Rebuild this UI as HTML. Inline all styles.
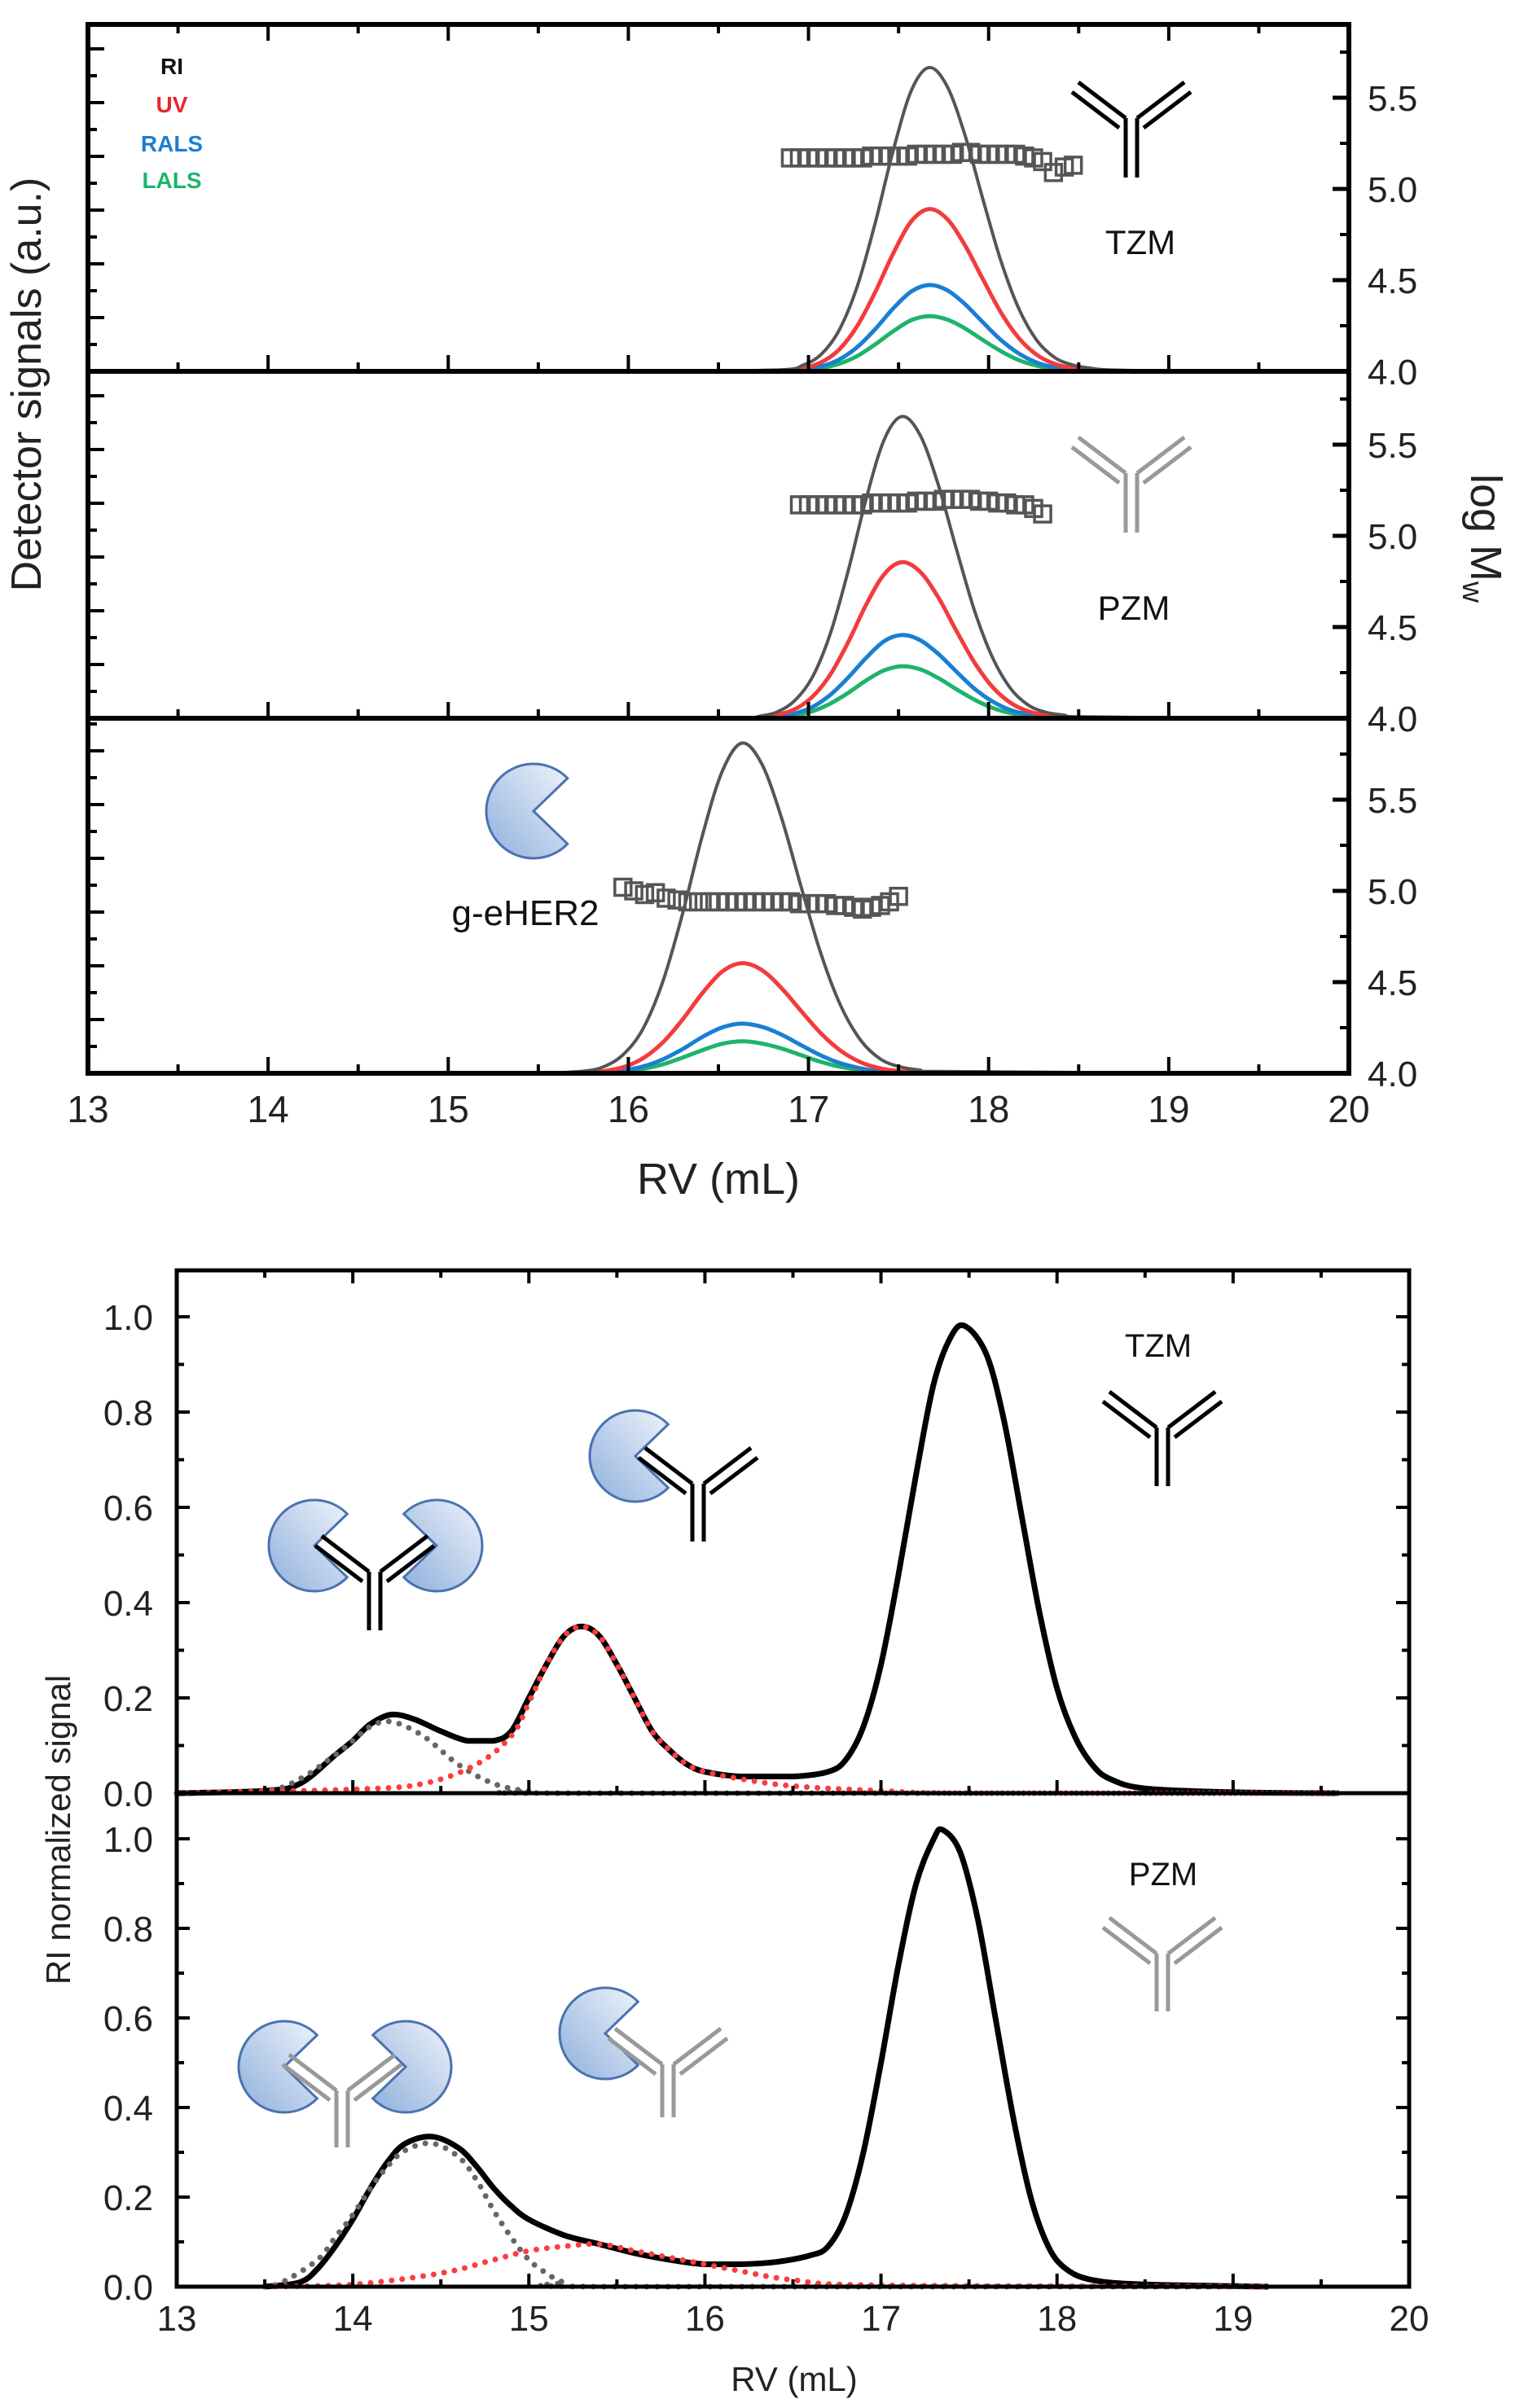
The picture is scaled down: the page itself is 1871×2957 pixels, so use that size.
<!DOCTYPE html>
<html><head><meta charset="utf-8"><style>
html,body{margin:0;padding:0;background:#fff;}
svg{display:block;font-family:"Liberation Sans",Arial,sans-serif;}
</style></head><body>
<svg id="fig" width="1871" height="2957" viewBox="0 0 1871 2957" xmlns="http://www.w3.org/2000/svg">
<defs>
<linearGradient id="pacg" x1="0" y1="1" x2="1" y2="0">
<stop offset="0" stop-color="#8fb0dc"/><stop offset="1" stop-color="#eef3fb"/>
</linearGradient>
</defs>
<g id="top-chart"></g>
<g id="bottom-chart"></g>
</svg>
<script>
// ---------- TOP CHART DATA ----------
const topXTicks = [13,14,15,16,17,18,19,20];
const logMTicks = [4.0,4.5,5.0,5.5];
const p1RV = [16.87,16.97,17.07,17.17,17.27,17.37,17.47,17.57,17.67,17.77,17.87,17.97,18.07,18.17,18.27,18.37,18.47,18.57,18.67];
const p1RI = [0.005,0.018,0.049,0.119,0.245,0.429,0.639,0.812,0.88,0.825,0.682,0.495,0.317,0.179,0.088,0.039,0.018,0.009,0.004];
const p1UV = [0.003,0.009,0.026,0.063,0.131,0.229,0.341,0.434,0.47,0.441,0.364,0.265,0.169,0.095,0.047,0.021,0.009,0.005,0.002];
const p1RALS = [0.002,0.005,0.014,0.034,0.07,0.122,0.182,0.231,0.25,0.235,0.194,0.141,0.09,0.051,0.025,0.011,0.005,0.003,0.001];
const p1LALS = [0.001,0.003,0.009,0.022,0.044,0.078,0.116,0.148,0.16,0.15,0.124,0.09,0.058,0.032,0.016,0.007,0.003,0.002,0.001];
const p1Range = [16.45,19.0];
const p1MwRV = [16.9,16.95,17.0,17.05,17.1,17.15,17.2,17.25,17.3,17.35,17.4,17.45,17.5,17.55,17.6,17.65,17.7,17.75,17.8,17.85,17.9,17.95,18.0,18.05,18.1,18.15,18.2,18.25,18.3,18.36,18.42,18.47];
const p1Mw = [5.17,5.17,5.17,5.17,5.17,5.17,5.17,5.17,5.17,5.18,5.18,5.18,5.18,5.18,5.19,5.19,5.19,5.19,5.19,5.2,5.2,5.19,5.19,5.19,5.19,5.19,5.18,5.17,5.15,5.09,5.12,5.13];
const p2RV = [16.72,16.82,16.92,17.02,17.12,17.22,17.32,17.42,17.52,17.62,17.72,17.82,17.92,18.02,18.12,18.22,18.32,18.42,18.52];
const p2RI = [0.005,0.017,0.049,0.117,0.242,0.424,0.632,0.803,0.87,0.816,0.674,0.49,0.313,0.177,0.087,0.038,0.017,0.009,0.004];
const p2UV = [0.003,0.009,0.025,0.061,0.125,0.219,0.327,0.415,0.45,0.422,0.349,0.253,0.162,0.091,0.045,0.02,0.009,0.005,0.002];
const p2RALS = [0.001,0.005,0.013,0.032,0.067,0.117,0.174,0.222,0.24,0.225,0.186,0.135,0.086,0.049,0.024,0.011,0.005,0.002,0.001];
const p2LALS = [0.001,0.003,0.008,0.02,0.042,0.073,0.109,0.138,0.15,0.141,0.116,0.084,0.054,0.03,0.015,0.007,0.003,0.002,0.001];
const p2Range = [16.7,19.3];
const p2MwRV = [16.95,17.0,17.05,17.1,17.15,17.2,17.25,17.3,17.35,17.4,17.45,17.5,17.55,17.6,17.65,17.7,17.75,17.8,17.85,17.9,17.95,18.0,18.05,18.1,18.15,18.2,18.25,18.3];
const p2Mw = [5.17,5.17,5.17,5.17,5.17,5.17,5.17,5.17,5.18,5.18,5.18,5.18,5.18,5.19,5.19,5.19,5.2,5.2,5.2,5.2,5.19,5.19,5.18,5.18,5.17,5.17,5.15,5.12];
const p3RV = [15.75,15.86,15.97,16.08,16.19,16.30,16.41,16.52,16.63,16.74,16.85,16.96,17.07,17.18,17.29,17.40,17.51,17.62,17.73];
const p3RI = [0.006,0.018,0.052,0.124,0.256,0.448,0.668,0.849,0.93,0.872,0.72,0.524,0.335,0.189,0.093,0.04,0.018,0.009,0.005];
const p3UV = [0.002,0.006,0.017,0.042,0.086,0.151,0.225,0.286,0.31,0.291,0.24,0.175,0.112,0.063,0.031,0.014,0.006,0.003,0.002];
const p3RALS = [0.001,0.003,0.008,0.019,0.039,0.068,0.102,0.129,0.14,0.131,0.109,0.079,0.05,0.028,0.014,0.006,0.003,0.001,0.001];
const p3LALS = [0.001,0.002,0.005,0.012,0.025,0.044,0.065,0.083,0.09,0.084,0.07,0.051,0.032,0.018,0.009,0.004,0.002,0.001,0];
const p3Range = [15.55,19.3];
const p3MwRV = [15.97,16.03,16.09,16.15,16.21,16.27,16.33,16.39,16.45,16.5,16.55,16.6,16.65,16.7,16.75,16.8,16.85,16.9,16.95,17.0,17.05,17.1,17.15,17.2,17.25,17.3,17.35,17.4,17.45,17.5];
const p3Mw = [5.02,5.0,4.98,4.99,4.96,4.95,4.94,4.94,4.94,4.94,4.94,4.94,4.94,4.94,4.94,4.94,4.94,4.94,4.93,4.93,4.93,4.93,4.92,4.92,4.91,4.9,4.91,4.92,4.94,4.97];

// ---------- BOTTOM CHART DATA ----------
const botXTicks = [13,14,15,16,17,18,19,20];
const botYTicks = [0.0,0.2,0.4,0.6,0.8,1.0];
const tzmRV = [13.0,13.5,13.7,13.9,14.0,14.1,14.22,14.35,14.5,14.65,14.8,14.9,15.0,15.1,15.2,15.3,15.4,15.5,15.6,15.7,15.8,15.9,16.0,16.2,16.5,16.7,16.8,16.9,17.0,17.1,17.2,17.3,17.4,17.48,17.6,17.7,17.8,17.9,18.0,18.1,18.2,18.3,18.5,19.0,19.6];
const tzmSig = [0.0,0.005,0.02,0.08,0.11,0.145,0.165,0.155,0.13,0.11,0.11,0.13,0.2,0.27,0.33,0.35,0.33,0.27,0.2,0.13,0.09,0.06,0.045,0.035,0.035,0.045,0.07,0.14,0.27,0.46,0.67,0.86,0.96,0.98,0.92,0.78,0.58,0.38,0.22,0.12,0.06,0.03,0.01,0.002,0.0];
const tzmFit1RV = [13.0,13.5,13.7,13.9,14.0,14.1,14.22,14.4,14.6,14.8,15.0,15.2,19.6];
const tzmFit1 = [0.0,0.005,0.03,0.08,0.11,0.14,0.15,0.12,0.06,0.02,0.004,0.0,0.0];
const tzmFit2RV = [13.0,14.0,14.4,14.7,14.9,15.0,15.1,15.2,15.3,15.4,15.5,15.6,15.7,15.8,15.9,16.0,16.2,16.5,17.0,17.5,19.6];
const tzmFit2 = [0.0,0.008,0.02,0.06,0.12,0.19,0.27,0.33,0.35,0.33,0.27,0.2,0.13,0.09,0.06,0.045,0.03,0.015,0.005,0.0,0.0];
const pzmRV = [13.5,13.7,13.8,13.9,14.0,14.1,14.2,14.3,14.45,14.6,14.7,14.8,14.9,15.0,15.2,15.4,15.6,15.8,16.0,16.2,16.4,16.6,16.7,16.8,16.9,17.0,17.1,17.2,17.3,17.35,17.45,17.55,17.65,17.75,17.85,17.95,18.05,18.2,18.5,19.2];
const pzmSig = [0.0,0.01,0.04,0.09,0.15,0.22,0.28,0.32,0.335,0.31,0.27,0.22,0.18,0.15,0.115,0.095,0.075,0.06,0.05,0.05,0.055,0.07,0.09,0.16,0.3,0.5,0.72,0.9,1.0,1.02,0.97,0.82,0.6,0.38,0.2,0.09,0.04,0.015,0.005,0.0];
const pzmFit1RV = [13.5,13.6,13.8,13.9,14.0,14.1,14.2,14.3,14.45,14.6,14.7,14.8,14.9,15.0,15.1,15.2,15.4,19.2];
const pzmFit1 = [0.0,0.01,0.06,0.11,0.16,0.22,0.27,0.305,0.32,0.29,0.24,0.17,0.11,0.06,0.03,0.01,0.0,0.0];
const pzmFit2RV = [13.5,14.0,14.5,14.8,15.0,15.2,15.4,15.6,15.8,16.0,16.2,16.5,17.0,19.2];
const pzmFit2 = [0.0,0.005,0.03,0.06,0.08,0.09,0.095,0.08,0.065,0.05,0.035,0.015,0.003,0.0];

const NS = "http://www.w3.org/2000/svg";
function mk(parent, tag, attrs){const e=document.createElementNS(NS,tag);for(const k in attrs)e.setAttribute(k,attrs[k]);parent.appendChild(e);return e;}
function pathFrom(xs, ys, fx, fy){
  const P = xs.map((v,i)=>[fx(v),fy(ys[i])]);
  let d = 'M'+P[0][0].toFixed(1)+','+P[0][1].toFixed(1);
  for(let i=0;i<P.length-1;i++){
    const p0=P[Math.max(i-1,0)], p1=P[i], p2=P[i+1], p3=P[Math.min(i+2,P.length-1)];
    const t=1/6;
    let c1x=p1[0]+(p2[0]-p0[0])*t, c1y=p1[1]+(p2[1]-p0[1])*t;
    let c2x=p2[0]-(p3[0]-p1[0])*t, c2y=p2[1]-(p3[1]-p1[1])*t;
    const lo=Math.min(p1[1],p2[1]), hi=Math.max(p1[1],p2[1]);
    c1y=Math.min(Math.max(c1y,lo-40),hi); c2y=Math.min(Math.max(c2y,lo-40),hi);
    d+=` C${c1x.toFixed(1)},${c1y.toFixed(1)} ${c2x.toFixed(1)},${c2y.toFixed(1)} ${p2[0].toFixed(1)},${p2[1].toFixed(1)}`;
  }
  return d;
}

// ---------- TOP CHART ----------
const topG = document.getElementById('top-chart');
const TL=108, TR=1656, TT=30;
const tx = v => TL + (v-13)*(TR-TL)/7;
const panelBase = [456,882,1318];
const panelTop = [30,456,882];
const panelH = [424,426,436];
const yM = (p,v) => panelBase[p] - (v-4)*224;
const yS = (p,v) => panelBase[p] - v*panelH[p];
const panels = [
 {rv:p1RV, ri:p1RI, uv:p1UV, rals:p1RALS, lals:p1LALS, range:p1Range, mrv:p1MwRV, mw:p1Mw, name:'tzm'},
 {rv:p2RV, ri:p2RI, uv:p2UV, rals:p2RALS, lals:p2LALS, range:p2Range, mrv:p2MwRV, mw:p2Mw, name:'pzm'},
 {rv:p3RV, ri:p3RI, uv:p3UV, rals:p3RALS, lals:p3LALS, range:p3Range, mrv:p3MwRV, mw:p3Mw, name:'gher2'}
];
panels.forEach((P,p)=>{
  const g = mk(topG,'g',{});
  
  
  const fy = v=>yS(p,v);
  const series = [['lals',P.lals,'#1db46a',5],['rals',P.rals,'#1a7fd4',5],['uv',P.uv,'#f23c3c',5],['ri',P.ri,'#555555',4]];
  series.forEach(s=>{
    const xs=[P.range[0]].concat(P.rv,[P.range[1]]);
    const ys=[0].concat(s[1],[0]);
    const el = mk(g,'path',{d:pathFrom(xs,ys,tx,fy),fill:'none',stroke:s[2],'stroke-width':s[3],'stroke-linejoin':'round'});
    
    
  });
  P.mrv.forEach((v,i)=>{
    const el = mk(g,'rect',{x:tx(v)-10,y:yM(p,P.mw[i])-10,width:20,height:20,fill:'none',stroke:'#555','stroke-width':3.5});
    
    
  });
  for(let k=0;k<=14;k++){
    const v=13+k*0.5, L=(k%2==0)?20:11, X=tx(v);
    mk(topG,'line',{x1:X,y1:panelBase[p],x2:X,y2:panelBase[p]-L,stroke:'#000','stroke-width':4});
    if(p==0) mk(topG,'line',{x1:X,y1:TT,x2:X,y2:TT+L,stroke:'#000','stroke-width':4});
  }
  for(let v=4.0; v<=5.9; v+=0.25){
    const Y=yM(p,v); if(Y<panelTop[p]+4) continue;
    const maj = Math.abs((v*2)-Math.round(v*2))<1e-6;
    mk(topG,'line',{x1:TR,y1:Y,x2:TR-(maj?20:11),y2:Y,stroke:'#000','stroke-width':maj?5:4});
  }
  for(let k=1;k*33<panelH[p]-5;k++){
    const Y=panelBase[p]-k*33;
    mk(topG,'line',{x1:TL,y1:Y,x2:TL+(k%2==0?20:11),y2:Y,stroke:'#000','stroke-width':4});
  }
  logMTicks.forEach(v=>{
    const t = mk(topG,'text',{x:1679,y:yM(p,v)+16,'font-size':44,fill:'#222'});
    t.textContent=v.toFixed(1);
    
    
  });
});
mk(topG,'rect',{x:TL,y:TT,width:TR-TL,height:1318-TT,fill:'none',stroke:'#000','stroke-width':6});
mk(topG,'line',{x1:TL,y1:456,x2:TR,y2:456,stroke:'#000','stroke-width':6});
mk(topG,'line',{x1:TL,y1:882,x2:TR,y2:882,stroke:'#000','stroke-width':6});
topXTicks.forEach(v=>{
  const t = mk(topG,'text',{x:tx(v),y:1378,'font-size':46,'text-anchor':'middle',fill:'#222'});
  t.textContent=v;
  
  
});

// ---------- BOTTOM CHART ----------
const bot = document.getElementById('bottom-chart');
const BL=217, BR=1730, BT=1560, BM=2202, BB=2808;
const bx = v => BL + (v-13)*(BR-BL)/7;
const byA = v => BM - v*585;
const byB = v => BB - v*550;
function dotted(xs,ys,fy,color,name){
  const el = mk(bot,'path',{d:pathFrom(xs,ys,bx,fy),fill:'none',stroke:color,'stroke-width':7,'stroke-linecap':'round','stroke-dasharray':'0 13'});
  
  
}
function solid(xs,ys,fy,name){
  const el = mk(bot,'path',{d:pathFrom(xs,ys,bx,fy),fill:'none',stroke:'#000','stroke-width':7,'stroke-linejoin':'round'});
  
  
}
solid(tzmRV,tzmSig,byA,'tzm-ri-signal');
dotted(tzmFit1RV,tzmFit1,byA,'#666','tzm-fit-complex2');
dotted(tzmFit2RV,tzmFit2,byA,'#ff3b3b','tzm-fit-complex1');
solid(pzmRV,pzmSig,byB,'pzm-ri-signal');
dotted(pzmFit1RV,pzmFit1,byB,'#666','pzm-fit-complex2');
dotted(pzmFit2RV,pzmFit2,byB,'#ff3b3b','pzm-fit-complex1');
[[BM,BT,byA],[BB,BM,byB]].forEach(([b,tp,fy],pi)=>{
  for(let k=0;k<=14;k++){
    const X=bx(13+k*0.5), L=(k%2==0)?16:9;
    mk(bot,'line',{x1:X,y1:b,x2:X,y2:b-L,stroke:'#000','stroke-width':4});
    if(pi==0) mk(bot,'line',{x1:X,y1:BT,x2:X,y2:BT+L,stroke:'#000','stroke-width':4});
  }
  for(let k=1;k<=11;k++){
    const Y=fy(k*0.1); if(Y<tp+4) continue;
    const L=(k%2==0)?16:9;
    mk(bot,'line',{x1:BL,y1:Y,x2:BL+L,y2:Y,stroke:'#000','stroke-width':4});
    mk(bot,'line',{x1:BR,y1:Y,x2:BR-L,y2:Y,stroke:'#000','stroke-width':4});
  }
  botYTicks.forEach(v=>{
    const t = mk(bot,'text',{x:188,y:fy(v)+16,'font-size':44,'text-anchor':'end',fill:'#222'});
    t.textContent=v.toFixed(1);
    
    
  });
});
mk(bot,'rect',{x:BL,y:BT,width:BR-BL,height:BB-BT,fill:'none',stroke:'#000','stroke-width':5});
mk(bot,'line',{x1:BL,y1:BM,x2:BR,y2:BM,stroke:'#000','stroke-width':5});
botXTicks.forEach(v=>{
  const t = mk(bot,'text',{x:bx(v),y:2862,'font-size':44,'text-anchor':'middle',fill:'#222'});
  t.textContent=v;
  
  
});

// ---------- ICONS ----------
const svgRoot = document.getElementById('fig');
function antibody(cx, forkY, botY, color, name){
  const g = mk(svgRoot,'g',{stroke:color,'stroke-width':5,fill:'none'});
  
  
  const gap=7, ax=58, ay=44;
  mk(g,'line',{x1:cx-gap,y1:forkY,x2:cx-gap,y2:botY});
  mk(g,'line',{x1:cx+gap,y1:forkY,x2:cx+gap,y2:botY});
  mk(g,'polyline',{points:`${cx-gap},${forkY} ${cx-gap-ax},${forkY-ay}`});
  mk(g,'polyline',{points:`${cx-gap-8},${forkY+12} ${cx-gap-ax-8},${forkY-ay+12}`});
  mk(g,'polyline',{points:`${cx+gap},${forkY} ${cx+gap+ax},${forkY-ay}`});
  mk(g,'polyline',{points:`${cx+gap+8},${forkY+12} ${cx+gap+ax+8},${forkY-ay+12}`});
}
function pac(cx,cy,r,ang,name){
  const h=44*Math.PI/180, a=ang*Math.PI/180;
  const x1=cx+r*Math.cos(a+h), y1=cy+r*Math.sin(a+h), x2=cx+r*Math.cos(a-h), y2=cy+r*Math.sin(a-h);
  const el = mk(svgRoot,'path',{d:`M${cx},${cy} L${x1},${y1} A${r},${r} 0 1 1 ${x2},${y2} Z`,fill:'url(#pacg)',stroke:'#4a72b0','stroke-width':3});
  
  
}
antibody(1389,145,218,'#000','tzm-icon');
antibody(1389,581,654,'#999','pzm-icon');
pac(655,996,58,0,'her2-icon');
pac(386,1898,56,0,'her2-icon-left');
pac(536,1898,56,180,'her2-icon-right');
antibody(460,1930,2002,'#000','tzm-antibody-complex2');
pac(780,1788,56,0,'her2-icon-single');
antibody(857,1822,1893,'#000','tzm-antibody-complex1');
antibody(1427,1753,1825,'#000','tzm-icon-bottom');
pac(349,2538,56,0,'her2-icon-left-pzm');
pac(498,2538,56,180,'her2-icon-right-pzm');
antibody(420,2567,2637,'#999','pzm-antibody-complex2');
pac(743,2497,56,0,'her2-icon-single-pzm');
antibody(820,2535,2600,'#999','pzm-antibody-complex1');
antibody(1427,2399,2470,'#999','pzm-icon-bottom');
</script>
<svg style="position:absolute;left:0;top:0" width="1871" height="2957">
<g font-family="Liberation Sans, Arial, sans-serif">
<text x="211" y="91" font-size="28" font-weight="bold" text-anchor="middle" fill="#111">RI</text>
<text x="211" y="138" font-size="28" font-weight="bold" text-anchor="middle" fill="#e8262a">UV</text>
<text x="211" y="186" font-size="28" font-weight="bold" text-anchor="middle" fill="#1a7fd4">RALS</text>
<text x="211" y="231" font-size="28" font-weight="bold" text-anchor="middle" fill="#1db46a">LALS</text>
<text x="1400" y="312" font-size="42" text-anchor="middle" fill="#111">TZM</text>
<text x="1392" y="761" font-size="42" text-anchor="middle" fill="#111">PZM</text>
<text x="645" y="1136" font-size="44" text-anchor="middle" fill="#111">g-eHER2</text>
<text x="882" y="1466" font-size="54" text-anchor="middle" fill="#222">RV (mL)</text>
<text transform="translate(50,472) rotate(-90)" font-size="52" text-anchor="middle" fill="#222">Detector signals (a.u.)</text>
<text transform="translate(1806,661) rotate(90)" font-size="54" text-anchor="middle" fill="#222">log M<tspan font-size="36" dy="10">w</tspan></text>
<text x="1422" y="1666" font-size="40" text-anchor="middle" fill="#111">TZM</text>
<text x="1428" y="2315" font-size="40" text-anchor="middle" fill="#111">PZM</text>
<text x="975" y="2936" font-size="42" text-anchor="middle" fill="#222">RV (mL)</text>
<text transform="translate(86,2247) rotate(-90)" font-size="42" text-anchor="middle" fill="#222">RI normalized signal</text>
</g>
</svg>
</body></html>
